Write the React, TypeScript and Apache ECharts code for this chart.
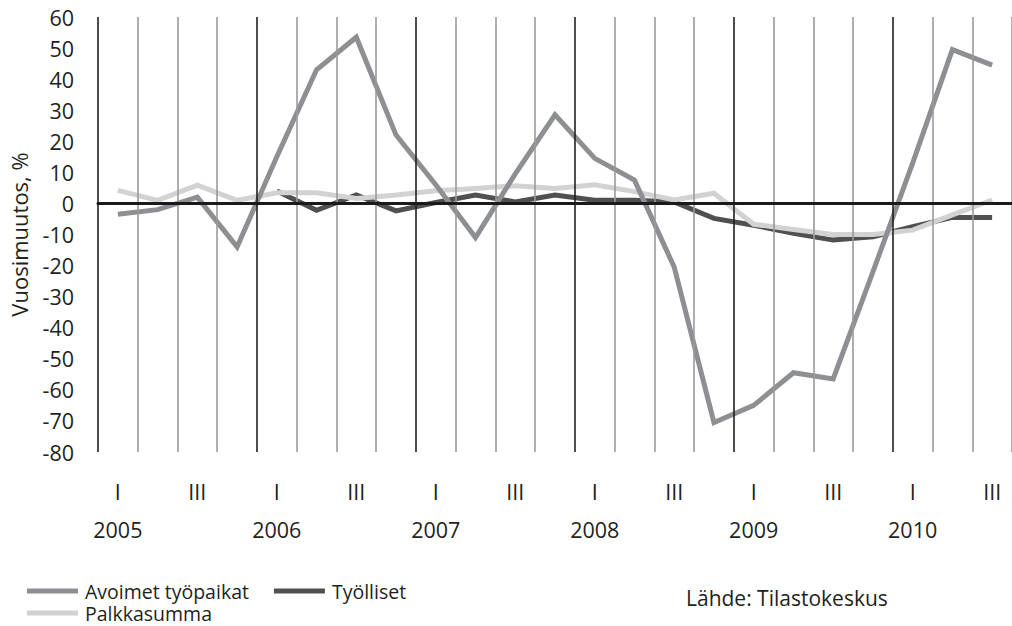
import React, { useEffect, useRef } from "react";
import * as echarts from "echarts";

const categories = [
  "2005 I", "2005 II", "2005 III", "2005 IV",
  "2006 I", "2006 II", "2006 III", "2006 IV",
  "2007 I", "2007 II", "2007 III", "2007 IV",
  "2008 I", "2008 II", "2008 III", "2008 IV",
  "2009 I", "2009 II", "2009 III", "2009 IV",
  "2010 I", "2010 II", "2010 III",
];

const avoimet = [-3.5, -2, 2, -14, 15, 43, 53.5, 22, 6, -11, 9.5, 28.5, 14.5, 7.5, -20.5, -70.5, -65, -54.5, -56.5, -22, 13, 49.5, 44.5];
const tyolliset = [null, null, null, null, 4, -2.2, 2.7, -2.4, 0.3, 2.7, 0.5, 2.7, 1, 1, 0.5, -4.8, -7, -9.6, -11.8, -10.7, -7.5, -4.5, -4.5];
const palkkasumma = [4.2, 1, 5.9, 1, 3.4, 3.4, 1.6, 2.7, 4.1, 4.8, 5.7, 4.8, 6, 3.8, 1.1, 3.3, -6.7, -8.4, -10, -10, -8.6, -3.7, 1.1];

const seriesNames = ["Avoimet työpaikat", "Työlliset", "Palkkasumma"];
const yAxisName = "Vuosimuutos, %";
const sourceText = "Lähde: Tilastokeskus";

const FONT = "'Open Sans', sans-serif";
const TEXT = "#231f20";
const AXIS_FS = 21.5;

export default function App() {
  const ref = useRef<HTMLDivElement>(null);
  useEffect(() => {
    if (!ref.current) return;
    const chart = echarts.init(ref.current, undefined, { renderer: "svg" });
    const legendText = { fontSize: 19.5, lineHeight: 20, color: TEXT, fontFamily: FONT, padding: [0, 0, 0, 2] };
    chart.setOption({
      animation: false,
      textStyle: { fontFamily: FONT },
      grid: { left: 98, top: 17, width: 915, height: 435 },
      legend: [
        {
          data: [seriesNames[0], seriesNames[1]],
          left: 27,
          top: 581,
          padding: 0,
          icon: "rect",
          itemWidth: 51,
          itemHeight: 5,
          itemGap: 25,
          textStyle: legendText,
        },
        {
          data: [seriesNames[2]],
          left: 27,
          top: 603,
          padding: 0,
          icon: "rect",
          itemWidth: 51,
          itemHeight: 5,
          textStyle: legendText,
        },
      ],
      graphic: [
        {
          type: "text",
          left: 686,
          top: 587,
          style: { text: sourceText, fill: TEXT, font: `21px ${FONT}` },
        },
      ],
      xAxis: [
        {
          type: "category",
          data: categories,
          position: "bottom",
          boundaryGap: true,
          z: 5,
          axisLine: { show: false, onZero: false },
          axisTick: { show: false },
          axisLabel: {
            interval: 0,
            margin: 20,
            color: TEXT,
            fontFamily: FONT,
            formatter: (value: string) => {
              const [y, q] = value.split(" ");
              if (q === "I") return `{q|I}\n{y|${y}}`;
              if (q === "III") return "{q|III}";
              return "";
            },
            rich: {
              q: { fontSize: AXIS_FS, lineHeight: 38, color: TEXT, fontFamily: FONT },
              y: { fontSize: AXIS_FS, lineHeight: 38, color: TEXT, fontFamily: FONT },
            },
          },
          splitLine: {
            show: true,
            interval: 0,
            lineStyle: {
              color: ["#231f20", "#9a9a9a", "#9a9a9a", "#9a9a9a"],
              width: 1.6,
            },
          },
        },
        {
          type: "category",
          data: categories,
          position: "top",
          boundaryGap: true,
          z: 6,
          axisLine: { show: true, onZero: true, lineStyle: { color: "#1a1a1a", width: 3 } },
          axisTick: { show: false },
          axisLabel: { show: false },
          splitLine: { show: false },
        },
      ],
      yAxis: {
        type: "value",
        min: -80,
        max: 60,
        interval: 10,
        name: yAxisName,
        nameLocation: "middle",
        nameGap: 68,
        nameTextStyle: { fontSize: 22, color: TEXT, fontFamily: FONT },
        axisLine: { show: false },
        axisTick: { show: false },
        splitLine: { show: false },
        axisLabel: { fontSize: AXIS_FS, color: TEXT, fontFamily: FONT, margin: 24 },
      },
      series: [
        {
          name: seriesNames[1],
          type: "line",
          data: tyolliset,
          symbol: "none",
          connectNulls: false,
          color: "#505050",
          lineStyle: { width: 5, color: "#505050", join: "miter" },
        },
        {
          name: seriesNames[2],
          type: "line",
          data: palkkasumma,
          symbol: "none",
          color: "#d2d2d2",
          lineStyle: { width: 5, color: "#d2d2d2", join: "miter" },
        },
        {
          name: seriesNames[0],
          type: "line",
          data: avoimet,
          symbol: "none",
          color: "#8e8f92",
          lineStyle: { width: 5, color: "#8e8f92", join: "miter" },
        },
      ],
    });
    return () => chart.dispose();
  }, []);
  return (
    <div
      ref={ref}
      style={{ position: "absolute", left: 0, top: 0, width: 1012, height: 626 }}
    />
  );
}
